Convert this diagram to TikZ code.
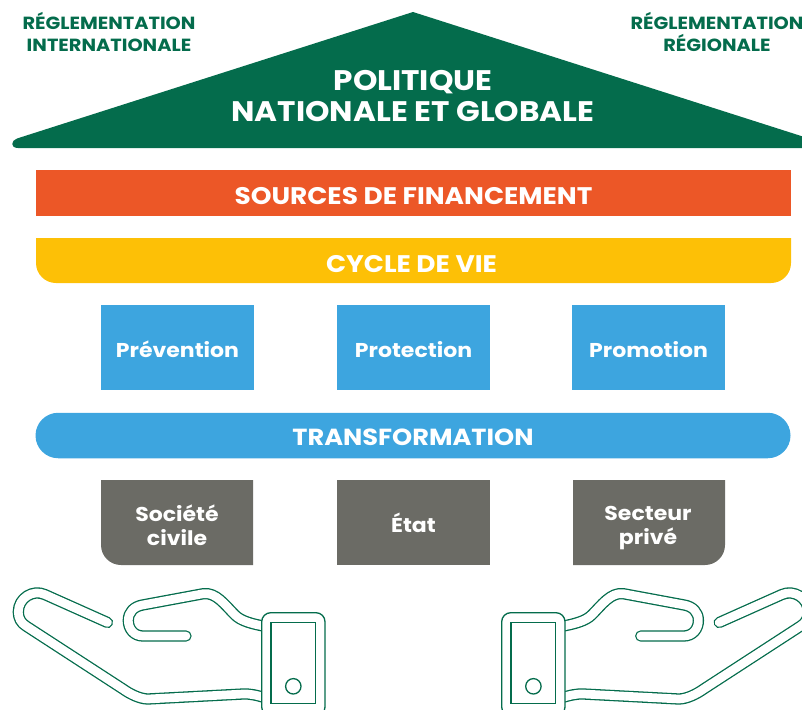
\documentclass[tikz,border=0pt]{standalone}
\usepackage{fontspec}
\setmainfont{Poppins}[FakeStretch=1.1]
\usetikzlibrary{shapes.misc}
\definecolor{roofgreen}{HTML}{046C4C}
\definecolor{fundorange}{HTML}{EC5727}
\definecolor{cycleyellow}{HTML}{FDC006}
\definecolor{skyblue}{HTML}{3DA5DF}
\definecolor{stonegrey}{HTML}{6B6B65}
\tikzset{
  x=1pt,y=-1pt,
  white label/.style={text=white,font=\fontsize{#1}{#1}\selectfont\bfseries,align=center,inner sep=0pt},
  green label/.style={text=roofgreen,font=\fontsize{17.6}{21.5}\selectfont\bfseries,align=center,inner sep=0pt},
  boxlabel/.style={text=white,font=\fontsize{20}{24}\selectfont\bfseries,align=center,inner sep=0pt},
  bluebox/.style={fill=skyblue,minimum width=153pt,minimum height=85pt,inner sep=0pt,outer sep=0pt,text height=20pt,text depth=0pt},
  greybox/.style={fill=stonegrey,minimum width=153pt,minimum height=85pt,inner sep=0pt,outer sep=0pt,text height=19pt,text depth=0pt},
  handfinger/.style={draw=roofgreen,line width=1.3pt,double=white,double distance=8.7pt,line cap=round,line join=round},
  handline/.style={draw=roofgreen,line width=1.3pt,fill=white},
}
\newcommand{\handdrawing}{%
  \path[handfinger] (107.5,622.5) -- (45,594.6)
    .. controls (33,589) and (18.3,598) .. (18.3,612)
    .. controls (18.3,618) and (21,623) .. (26,626)
    -- (123,689) .. controls (130,694) and (140,699) .. (148,699)
    -- (243,694) .. controls (250,693.7) and (256,695) .. (266,698);
  \path[handfinger] (186,636) -- (143,636)
    .. controls (134,636) and (128.3,629) .. (128.3,620.5)
    .. controls (128.3,612) and (134,606.5) .. (142.5,605)
    -- (203.3,593.7)
    .. controls (216,592) and (225,605) .. (235,615)
    .. controls (241,621) and (252,624) .. (266,626.5);
  \draw[handline,rounded corners=9pt] (261.7,612.7) rectangle (325,716);
  \draw[handline] (271,622.3) rectangle (315.7,703.3);
  \draw[handline] (293.3,686.3) circle[radius=7.7];
}
\begin{document}
\begin{tikzpicture}
\useasboundingbox (0,0) rectangle (802,709);
\clip (0,0) rectangle (802,709);
% roof
\fill[roofgreen] (413,12) -- (17,138.5) .. controls (11,140.5) and (10,148) .. (18,148)
  -- (808,148) .. controls (816,148) and (815,140.5) .. (809,138.5) -- cycle;
\node[white label=28,font=\fontsize{28.3}{31}\selectfont\bfseries] (title) at (413,96) {POLITIQUE\\NATIONALE ET GLOBALE};
\node[green label] (intl) at (109,32) {RÉGLEMENTATION\\INTERNATIONALE};
\node[green label] (regl) at (717,32) {RÉGLEMENTATION\\RÉGIONALE};
% bars
\node[fill=fundorange,white label=24,minimum width=755pt,minimum height=46pt,outer sep=0pt,text height=22pt,text depth=0pt] (fund) at (413.5,193) {SOURCES DE FINANCEMENT};
\fill[cycleyellow] (36,238) -- (791,238) -- (791,261) [rounded corners=20pt] -- (791,283) -- (36,283) [sharp corners] -- (36,261) -- cycle;
\node[white label=24] (cycle) at (411.5,264) {CYCLE DE VIE};
\node[rounded rectangle,fill=skyblue,minimum width=755pt,minimum height=45.5pt,outer sep=0pt,white label=23.3,text height=20.5pt,text depth=0pt] (trans) at (413,435.5) {TRANSFORMATION};
% blue boxes
\node[bluebox,boxlabel] (prev) at (177.5,347.5) {Prévention};
\node[bluebox,boxlabel] (prot) at (413.5,347.5) {Protection};
\node[bluebox,boxlabel] (prom) at (648.5,347.5) {Promotion};
% grey boxes
\fill[stonegrey] (101,480) -- (253,480) -- (253,565) [rounded corners=20pt] -- (101,565) [sharp corners] -- cycle;
\node[boxlabel] (civil) at (177,525) {Société\\civile};
\node[greybox,boxlabel] (state) at (413.5,522.5) {État};
\fill[stonegrey] (573,480) -- (725,480) [rounded corners=20pt] -- (725,565) [sharp corners] -- (573,565) -- cycle;
\node[boxlabel] (priv) at (648,528) {Secteur\\privé};
% hands
\begin{scope}\handdrawing\end{scope}
\begin{scope}[xshift=826.7pt,xscale=-1]\handdrawing\end{scope}
\end{tikzpicture}
\end{document}
